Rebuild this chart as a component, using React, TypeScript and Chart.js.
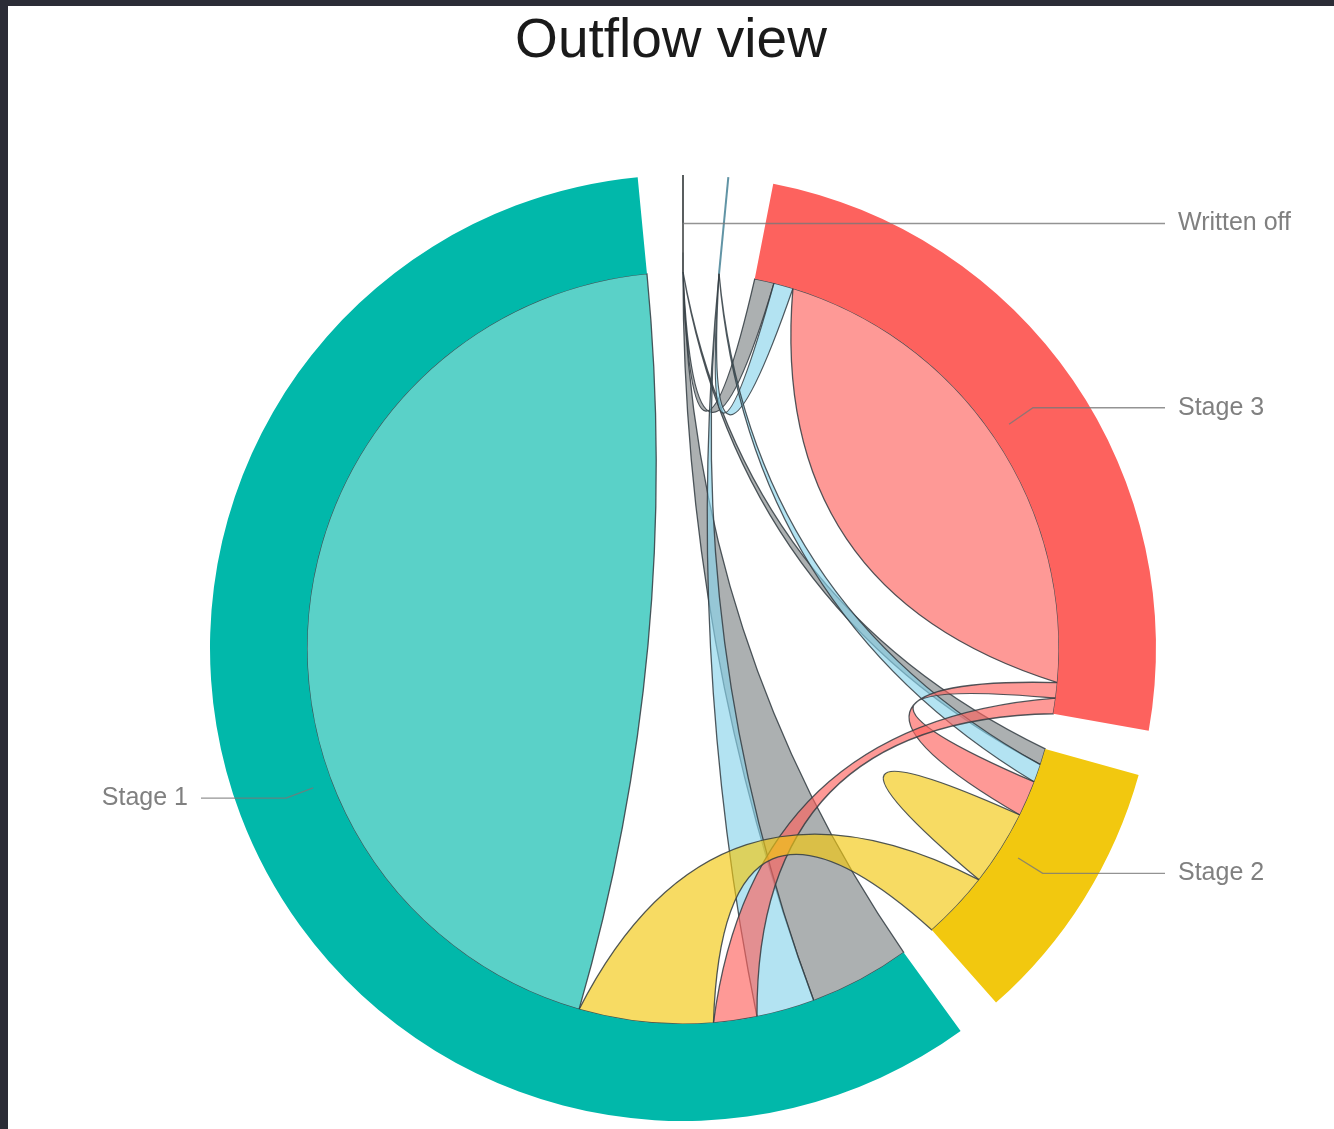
import React, { useEffect, useRef } from 'react';
import { Chart, registerables } from 'chart.js';

Chart.register(...registerables);

// ---------- data ----------
const chartTitle = 'Outflow view';
// node order around the wheel, clockwise from 12 o'clock ('' = node without a visible label)
const nodeNames = ['Written off', '', 'Stage 3', 'Stage 2', 'Stage 1'];
const nodeColors = ['#7f8687', '#8AD4EB', '#FD625E', '#F2C80F', '#01B8AA'];
// outflows: one row per source node, columns = target node in nodeNames order
const fromWrittenOff = [0, 0, 0, 0, 0];
const fromUnlabelled = [0, 0, 0, 0, 0];
const fromStage3 = [3.0, 3.0, 78.3, 2.4, 2.4];
const fromStage2 = [2.5, 2.8, 5.5, 11.7, 10.5];
const fromStage1 = [15.6, 9.0, 6.7, 20.7, 158.5];
const flows = [fromWrittenOff, fromUnlabelled, fromStage3, fromStage2, fromStage1];
const outflowTotals = flows.map((row) => row.reduce((a, b) => a + b, 0));

// ---------- style ----------
const PAD_DEG = 5.5;
const CURVE_DEPTH = 0.27;
const RIBBON_ALPHA = 0.65;
const RIBBON_STROKE = 'rgba(50,60,66,0.85)';
const FONT = '"Liberation Sans", Arial, sans-serif';
const LABEL_COLOR = '#808080';
const LEADER_COLOR = 'rgba(120,120,120,0.8)';
const TAU = Math.PI * 2;

function rgba(hex: string, a: number) {
  const n = parseInt(hex.slice(1), 16);
  return `rgba(${(n >> 16) & 255},${(n >> 8) & 255},${n & 255},${a})`;
}
function darken(hex: string, f: number) {
  const n = parseInt(hex.slice(1), 16);
  return `rgb(${Math.round(((n >> 16) & 255) * f)},${Math.round(((n >> 8) & 255) * f)},${Math.round((n & 255) * f)})`;
}

const chordPlugin = {
  id: 'chordRibbons',
  afterDatasetUpdate(chart: any, args: any) {
    // open a padding gap after every node
    const pad = (PAD_DEG * Math.PI) / 180;
    args.meta.data.forEach((arc: any, i: number) => {
      arc.startAngle += i * pad;
      arc.endAngle += i * pad;
    });
  },
  beforeDatasetsDraw(chart: any) {
    const arcs = chart.getDatasetMeta(0).data as any[];
    if (!arcs.length) return;
    const cx = arcs[0].x;
    const cy = arcs[0].y;
    const r = arcs[0].innerRadius;
    const ctx = chart.ctx as CanvasRenderingContext2D;

    const sub = flows.map((row, i) => {
      const arc = arcs[i];
      const scale = outflowTotals[i] > 0 ? (arc.endAngle - arc.startAngle) / outflowTotals[i] : 0;
      let a = arc.startAngle;
      return row.map((v) => {
        const s = a;
        a += v * scale;
        return [s, a];
      });
    });
    const pt = (a: number) => [cx + r * Math.cos(a), cy + r * Math.sin(a)];
    const ctrl = (a: number, b: number) => {
      let d = Math.abs(b - a) % TAU;
      let mid = (a + b) / 2;
      if (d > Math.PI) {
        d = TAU - d;
        mid += Math.PI;
      }
      const deg = (d * 180) / Math.PI;
      const k = CURVE_DEPTH * Math.min(1, Math.max(0, (150 - deg) / 60));
      return [cx + k * r * Math.cos(mid), cy + k * r * Math.sin(mid)];
    };

    ctx.save();
    ctx.lineWidth = 1.3;
    ctx.lineJoin = 'round';
    ctx.strokeStyle = RIBBON_STROKE;
    const n = flows.length;
    for (let i = 0; i < n; i++) {
      for (let j = i; j < n; j++) {
        const vij = flows[i][j];
        const vji = flows[j][i];
        if (!vij && !vji) continue;
        const color = vij >= vji ? nodeColors[j] : nodeColors[i];
        const [s0, s1] = sub[i][j];
        const [t0, t1] = sub[j][i];
        ctx.beginPath();
        let p = pt(s0);
        ctx.moveTo(p[0], p[1]);
        ctx.arc(cx, cy, r, s0, s1);
        let last = s1;
        if (i !== j) {
          const c = ctrl(s1, t0);
          p = pt(t0);
          ctx.quadraticCurveTo(c[0], c[1], p[0], p[1]);
          ctx.arc(cx, cy, r, t0, t1);
          last = t1;
        }
        const c2 = ctrl(last, s0);
        p = pt(s0);
        ctx.quadraticCurveTo(c2[0], c2[1], p[0], p[1]);
        ctx.closePath();
        ctx.fillStyle = rgba(color, RIBBON_ALPHA);
        ctx.fill();
        ctx.stroke();
      }
    }
    ctx.restore();
  },
  afterDatasetsDraw(chart: any) {
    const arcs = chart.getDatasetMeta(0).data as any[];
    if (!arcs.length) return;
    const ctx = chart.ctx as CanvasRenderingContext2D;
    const cx = arcs[0].x;
    const cy = arcs[0].y;
    const rin = arcs[0].innerRadius;
    const rout = arcs[0].outerRadius;
    ctx.save();
    // nodes without outflow: radial stroke
    arcs.forEach((arc: any, i: number) => {
      if (arc.endAngle - arc.startAngle > 1e-9) return;
      const a = arc.startAngle;
      ctx.beginPath();
      ctx.moveTo(cx + rin * Math.cos(a), cy + rin * Math.sin(a));
      ctx.lineTo(cx + rout * Math.cos(a), cy + rout * Math.sin(a));
      ctx.strokeStyle = darken(nodeColors[i], 0.7);
      ctx.lineWidth = 2;
      ctx.stroke();
    });
    // labels with leader lines
    ctx.font = `25px ${FONT}`;
    ctx.textBaseline = 'middle';
    nodeNames.forEach((name, i) => {
      if (!name) return;
      const arc = arcs[i];
      const mid = (arc.startAngle + arc.endAngle) / 2;
      const right = Math.cos(mid) >= 0;
      const r1 = rin + 0.2 * (rout - rin);
      const r2 = rin + 0.5 * (rout - rin);
      const x1 = cx + r1 * Math.cos(mid);
      const y1 = cy + r1 * Math.sin(mid);
      const x2 = cx + r2 * Math.cos(mid);
      const y2 = cy + r2 * Math.sin(mid);
      const x3 = cx + (right ? 1 : -1) * (rout + 9);
      ctx.beginPath();
      ctx.moveTo(x1, y1);
      ctx.lineTo(x2, y2);
      ctx.lineTo(x3, y2);
      ctx.strokeStyle = LEADER_COLOR;
      ctx.lineWidth = 1.3;
      ctx.stroke();
      ctx.fillStyle = LABEL_COLOR;
      ctx.textAlign = right ? 'left' : 'right';
      ctx.fillText(name, cx + (right ? 1 : -1) * (rout + 22), y2);
    });
    // title
    ctx.font = `55px ${FONT}`;
    ctx.fillStyle = '#1a1a1a';
    ctx.textAlign = 'center';
    ctx.textBaseline = 'alphabetic';
    ctx.fillText(chartTitle, chart.width / 2, 51);
    ctx.restore();
  },
};

export default function App() {
  const ref = useRef<HTMLCanvasElement | null>(null);
  useEffect(() => {
    if (!ref.current) return;
    const chart = new Chart(ref.current, {
      type: 'doughnut',
      data: {
        labels: nodeNames,
        datasets: [
          {
            data: outflowTotals,
            backgroundColor: nodeColors,
            borderWidth: 0,
            circumference: 360 - PAD_DEG * nodeNames.length,
            rotation: 0,
          } as any,
        ],
      },
      options: {
        responsive: false,
        animation: false,
        events: [],
        cutout: '79.5%',
        layout: { padding: { top: 169, left: 202, right: 178, bottom: 8 } },
        plugins: {
          legend: { display: false },
          title: { display: false },
          tooltip: { enabled: false },
        },
      } as any,
      plugins: [chordPlugin as any],
    });
    return () => chart.destroy();
  }, []);
  return (
    <div style={{ position: 'absolute', left: 0, top: 0, width: 1334, height: 1129, background: '#2b2c36', overflow: 'hidden' }}>
      <div style={{ position: 'absolute', left: 8, top: 6, width: 1326, height: 1123, background: '#ffffff' }}>
        <canvas ref={ref} width={1326} height={1123} style={{ display: 'block' }} />
      </div>
    </div>
  );
}
